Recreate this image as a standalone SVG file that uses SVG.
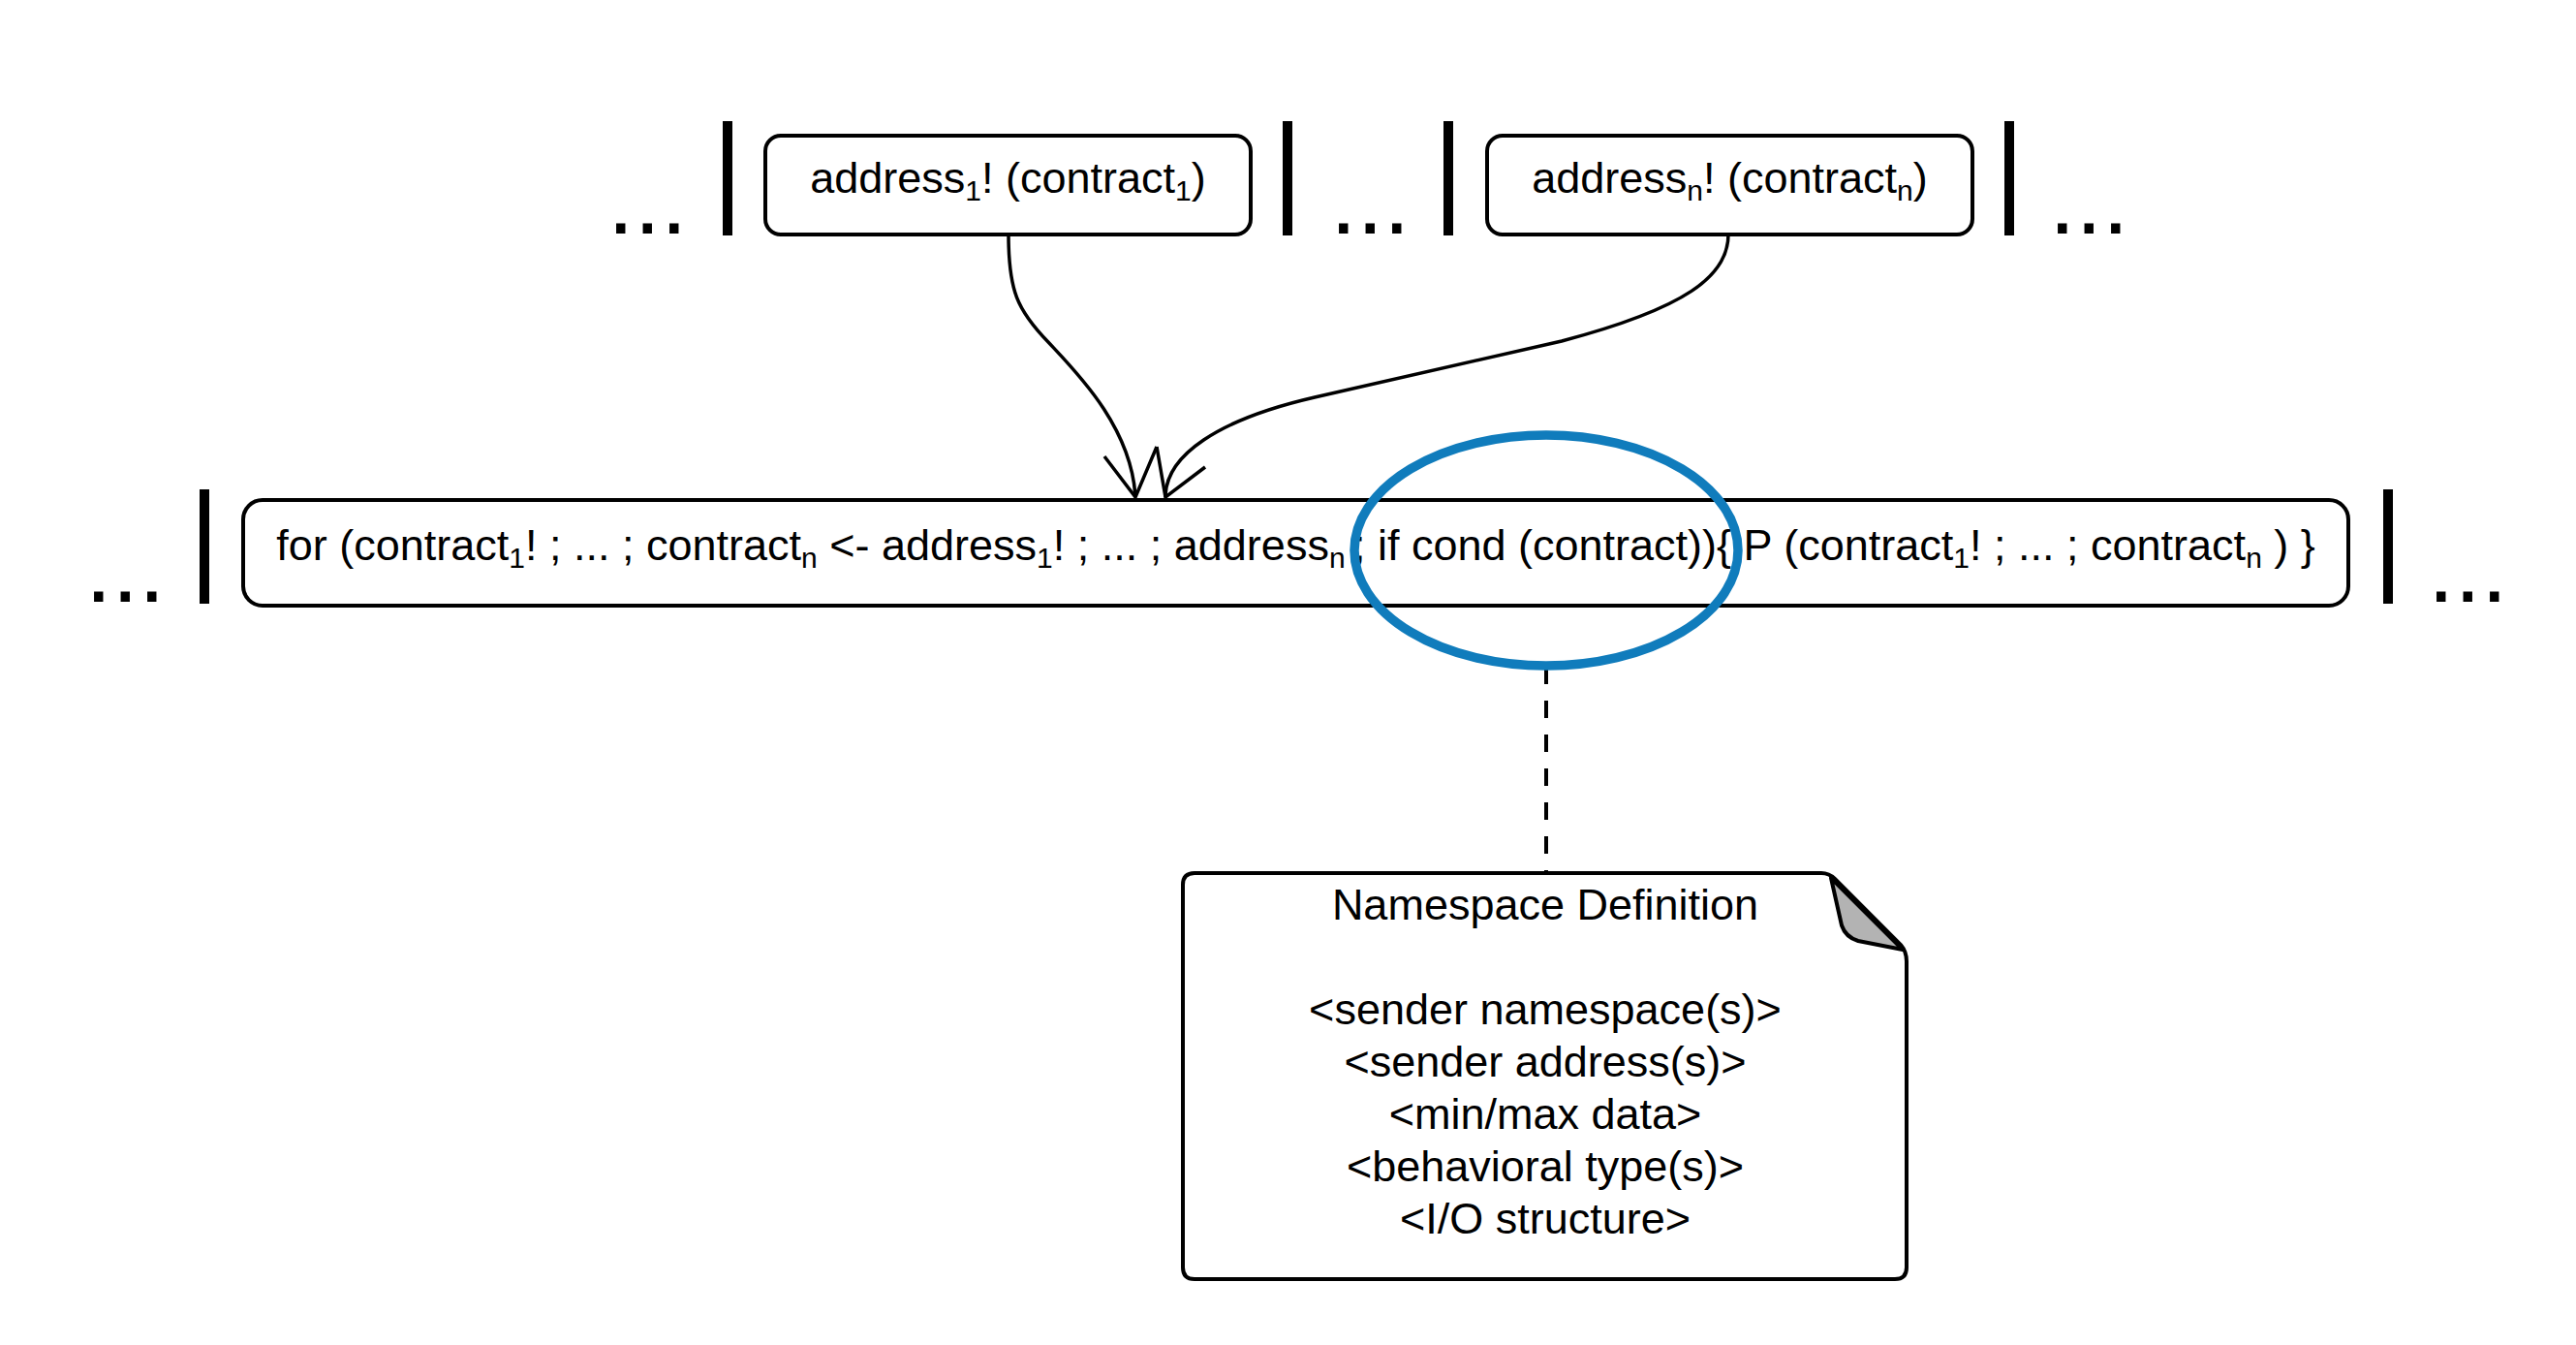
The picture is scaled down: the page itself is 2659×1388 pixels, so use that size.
<svg xmlns="http://www.w3.org/2000/svg" width="2659" height="1388" viewBox="0 0 2659 1388">
  <style>
    .box { fill: #ffffff; stroke: #000000; stroke-width: 4; }
    .lbl { font-family: "Liberation Sans", Arial, sans-serif; font-size: 45px; fill: #000000; text-anchor: middle; }
    .sub { font-size: 30px; }
    .dots { font-family: "Liberation Sans", Arial, sans-serif; font-size: 99px; fill: #000000; }
    .bar { fill: #000000; }
    .conn { fill: none; stroke: #000000; stroke-width: 3.5; }
    .dash { fill: none; stroke: #000000; stroke-width: 4; stroke-dasharray: 18 17; }
    .hl { fill: none; stroke: #107CBC; stroke-width: 9.5; }
  </style>
  <rect x="0" y="0" width="2659" height="1388" fill="#ffffff"/>

  <g id="separators">
    <text class="dots" x="627" y="241">...</text>
    <rect class="bar" x="746" y="125" width="10" height="118"/>
    <rect class="bar" x="1324" y="125" width="10" height="118"/>
    <text class="dots" x="1373" y="241">...</text>
    <rect class="bar" x="1490" y="125" width="10" height="118"/>
    <rect class="bar" x="2069" y="125" width="10" height="118"/>
    <text class="dots" x="2115" y="241">...</text>

    <text class="dots" x="88" y="621">...</text>
    <rect class="bar" x="206" y="505" width="10" height="118"/>
    <rect class="bar" x="2460" y="505" width="10" height="118"/>
    <text class="dots" x="2506" y="621">...</text>
  </g>

  <g id="connectors">
    <path class="conn" d="M 1041,242 C 1041,300 1050,320 1082,353 C 1110,383 1168,440 1172,513"/>
    <polyline class="conn" points="1140,471 1172,513 1194,461"/>
    <path class="conn" d="M 1784,242 C 1784,285 1740,318 1612,352 L 1357,410 C 1257,433 1203,470 1203,513"/>
    <polyline class="conn" points="1194,461 1203,513 1244,482"/>
    <line class="dash" x1="1596" y1="688" x2="1596" y2="900"/>
  </g>

  <g id="send1">
    <rect class="box" x="790" y="140" width="501" height="102" rx="16" ry="16"/>
    <text class="lbl" x="1040.5" y="199">address<tspan class="sub" dy="8">1</tspan><tspan dy="-8">! (contract</tspan><tspan class="sub" dy="8">1</tspan><tspan dy="-8">)</tspan></text>
  </g>

  <g id="sendn">
    <rect class="box" x="1535" y="140" width="501" height="102" rx="16" ry="16"/>
    <text class="lbl" x="1785.5" y="199">address<tspan class="sub" dy="8">n</tspan><tspan dy="-8">! (contract</tspan><tspan class="sub" dy="8">n</tspan><tspan dy="-8">)</tspan></text>
  </g>

  <g id="forloop">
    <rect class="box" x="251" y="516" width="2173" height="109" rx="20" ry="20"/>
    <text class="lbl" x="1337.5" y="578">for (contract<tspan class="sub" dy="8">1</tspan><tspan dy="-8">! ; ... ; contract</tspan><tspan class="sub" dy="8">n</tspan><tspan dy="-8"> &lt;- address</tspan><tspan class="sub" dy="8">1</tspan><tspan dy="-8">! ; ... ; address</tspan><tspan class="sub" dy="8">n </tspan><tspan dy="-8">; if cond (contract)){ P (contract</tspan><tspan class="sub" dy="8">1</tspan><tspan dy="-8">! ; ... ; contract</tspan><tspan class="sub" dy="8">n</tspan><tspan dy="-8"> ) }</tspan></text>
  </g>

  <g id="highlight">
    <ellipse class="hl" cx="1596" cy="568" rx="198" ry="119"/>
  </g>

  <g id="note">
    <path class="box" d="M 1233,901 H 1880 Q 1888,901 1894,907 L 1962,975 Q 1968,982 1968,992 V 1308 Q 1968,1320 1956,1320 H 1233 Q 1221,1320 1221,1308 V 913 Q 1221,901 1233,901 Z"/>
    <path d="M 1890,906 L 1901,955 Q 1905,967 1918,971 L 1964,980 Z" fill="#b3b3b3" stroke="#000000" stroke-width="4" stroke-linejoin="round"/>
    <text class="lbl" x="1595" y="949">Namespace Definition</text>
    <text class="lbl" x="1595" y="1057">&lt;sender namespace(s)&gt;</text>
    <text class="lbl" x="1595" y="1111">&lt;sender address(s)&gt;</text>
    <text class="lbl" x="1595" y="1165">&lt;min/max data&gt;</text>
    <text class="lbl" x="1595" y="1219">&lt;behavioral type(s)&gt;</text>
    <text class="lbl" x="1595" y="1273">&lt;I/O structure&gt;</text>
  </g>
</svg>
